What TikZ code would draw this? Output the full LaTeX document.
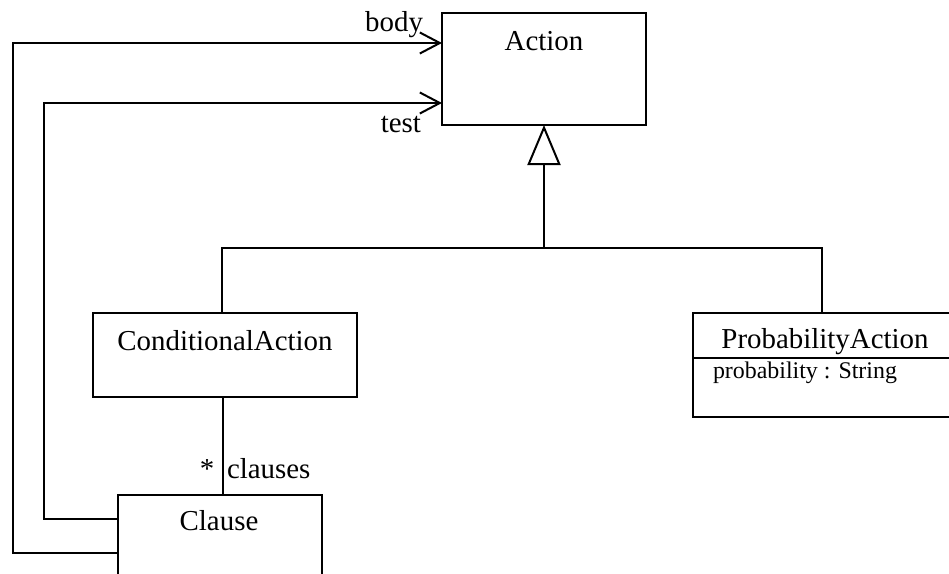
\documentclass[tikz,border=0pt]{standalone}
\usepackage{fontspec}
\setmainfont{Liberation Serif}
\usetikzlibrary{arrows.meta}
\begin{document}
\begin{tikzpicture}[x=1bp,y=-1bp,
  line width=2bp,
  umlbox/.style={draw, rectangle, inner sep=0pt, outer sep=0pt},
  big/.style={font=\fontsize{29}{34}\selectfont, inner sep=0pt, anchor=base},
  small/.style={font=\fontsize{24}{28}\selectfont, inner sep=0pt},
  assoc/.style={-{Straight Barb[length=20bp,width=21bp]}},
  inherit/.style={-{Triangle[open,length=40bp,width=33bp]}}]
\useasboundingbox (0,0) rectangle (949,574);
\clip (0,0) rectangle (949,574);
% class boxes
\node[umlbox, minimum width=204bp, minimum height=112bp] (action) at (544,69) {};
\node[umlbox, minimum width=264bp, minimum height=84bp] (cond) at (225,355) {};
\node[umlbox, minimum width=264bp, minimum height=104bp] (prob) at (825,365) {};
\node[umlbox, minimum width=204bp, minimum height=112bp] (clause) at (220,551) {};
% class names
\node[big] (actionname) at (544,51) {Action};
\node[big] (condname) at (225,350) {ConditionalAction};
\node[big] (probname) at (825,348) {ProbabilityAction};
\node[big] (clausename) at (219,530) {Clause};
\draw (prob.west |- 0,358) -- (prob.east |- 0,358);
\node[small, anchor=base west] (probattr) at (712,378) {probability : String};
% generalization
\coordinate (j) at (544,248);
\draw[inherit] (j) -- (action.south);
\draw ([xshift=-3bp]cond.north) |- (j) -| ([xshift=-3bp]prob.north);
% association cond -- clause
\coordinate (cl) at (223,0);
\draw (cond.south -| cl) -- (clause.north -| cl);
\node[big] (star) at (207,478) {*};
\node[big, anchor=base west] (clauseslbl) at (226,478) {clauses};
% test and body associations
\draw[assoc] (clause.west |- 0,519) -| (44,103) -- (action.west |- 0,103);
\draw[assoc] (clause.west |- 0,553) -| (13,43) -- (action.west |- 0,43);
\node[big, anchor=base east] (bodylbl) at (424,32) {body};
\node[big, anchor=base east] (testlbl) at (422,133) {test};
\end{tikzpicture}
\end{document}
